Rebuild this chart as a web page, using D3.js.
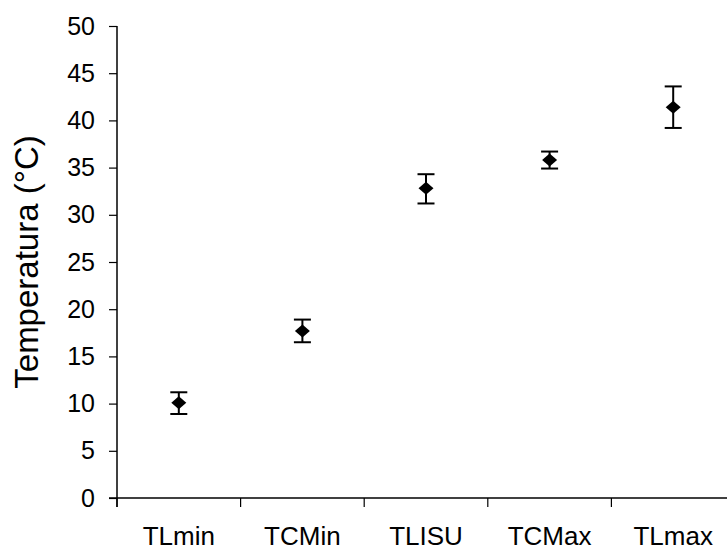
<!DOCTYPE html>
<html>
<head>
<meta charset="utf-8">
<script src="https://cdn.jsdelivr.net/npm/d3@7"></script>
<style>
  body { margin: 0; background: #fff; }
  svg { display: block; font-family: Arial, "Liberation Sans", sans-serif; }
</style>
</head>
<body>
<script>
// Data
let categories = ['TLmin', 'TCMin', 'TLISU', 'TCMax', 'TLmax'];
let means = [10.1, 17.7, 32.8, 35.8, 41.4];
let upper = [11.2, 18.9, 34.3, 36.7, 43.6];
let lower = [8.9, 16.5, 31.2, 34.9, 39.2];
let yTicks = [0, 5, 10, 15, 20, 25, 30, 35, 40, 45, 50];

let data = categories.map((c, i) => ({ cat: c, mean: means[i], hi: upper[i], lo: lower[i] }));

let width = 727, height = 552;
let margin = { top: 26, bottom: 54, left: 117, right: -8 };

let svg = d3.select('body')
    .append('svg')
    .attr('width', width)
    .attr('height', height);

// Scales
let yScale = d3.scaleLinear()
    .domain([0, 50])
    .range([height - margin.bottom, margin.top]);

let xScale = d3.scaleBand()
    .domain(categories)
    .range([margin.left, width - margin.right]);

// Y axis
let yAxis = svg.append('g')
    .attr('transform', `translate(${margin.left},0)`)
    .call(d3.axisLeft(yScale).tickValues(yTicks).tickSize(8).tickPadding(14));
yAxis.select('.domain').attr('d', `M0,${yScale(50)}V${yScale(0) + 9}`).attr('stroke-width', 1.5);
yAxis.selectAll('.tick line').attr('stroke-width', 1.2);
yAxis.selectAll('text').style('font-size', '25px').attr('fill', '#000');

// X axis
let xAxis = svg.append('g')
    .attr('transform', `translate(0,${yScale(0)})`)
    .call(d3.axisBottom(xScale).tickSize(0));
xAxis.select('.domain').attr('d', `M${margin.left - 8},0H${width}`).attr('stroke-width', 1.5);
xAxis.selectAll('text')
    .attr('y', 47)
    .attr('dy', null)
    .style('font-size', '26px')
    .attr('fill', '#000');

// category boundary ticks
svg.append('g')
    .selectAll('line')
    .data(categories)
    .enter()
    .append('line')
    .attr('x1', d => xScale(d))
    .attr('x2', d => xScale(d))
    .attr('y1', yScale(0))
    .attr('y2', yScale(0) + 9)
    .attr('stroke', '#000')
    .attr('stroke-width', 1.2);

// Y label
svg.append('text')
    .attr('transform', `translate(38,${(yScale(0) + yScale(50)) / 2}) rotate(-90)`)
    .attr('text-anchor', 'middle')
    .style('font-size', '33px')
    .text('Temperatura (°C)');

// Error bars
let cx = d => xScale(d.cat) + xScale.bandwidth() / 2;
let eb = svg.append('g').attr('stroke', '#000').attr('stroke-width', 2);

eb.selectAll('.v').data(data).enter().append('line')
    .attr('x1', cx).attr('x2', cx)
    .attr('y1', d => yScale(d.hi)).attr('y2', d => yScale(d.lo));
eb.selectAll('.t').data(data).enter().append('line')
    .attr('x1', d => cx(d) - 8.5).attr('x2', d => cx(d) + 8.5)
    .attr('y1', d => yScale(d.hi)).attr('y2', d => yScale(d.hi));
eb.selectAll('.b').data(data).enter().append('line')
    .attr('x1', d => cx(d) - 8.5).attr('x2', d => cx(d) + 8.5)
    .attr('y1', d => yScale(d.lo)).attr('y2', d => yScale(d.lo));

// Diamonds
svg.selectAll('.pt')
    .data(data)
    .enter()
    .append('path')
    .attr('transform', d => `translate(${cx(d)},${yScale(d.mean)})`)
    .attr('d', 'M0,-6.5L7.5,0L0,6.5L-7.5,0Z')
    .attr('fill', '#000');
</script>
</body>
</html>
